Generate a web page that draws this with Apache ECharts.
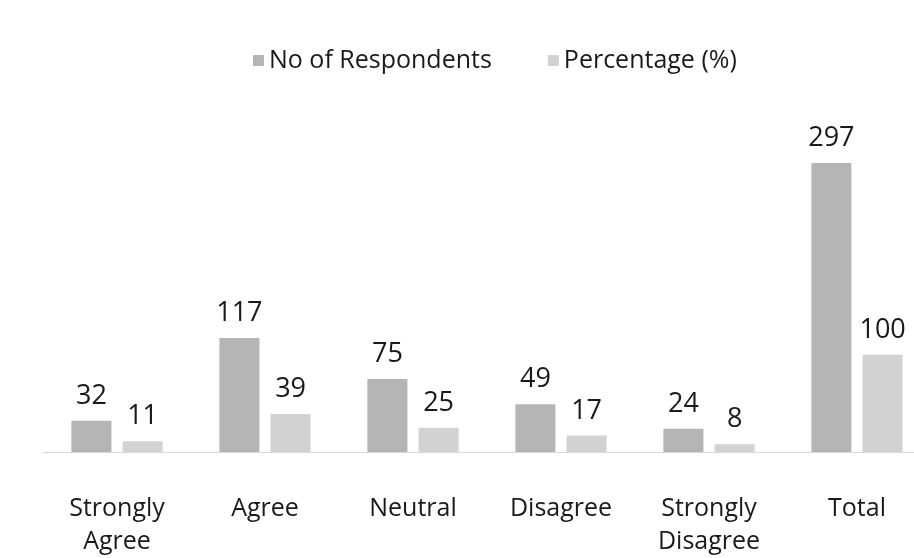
<!DOCTYPE html>
<html><head><meta charset="utf-8">
<script src="https://cdn.jsdelivr.net/npm/echarts@6/dist/echarts.min.js"></script>
<style>html,body{margin:0;padding:0;background:#fff;overflow:hidden}#c{width:931px;height:558px}</style>
</head><body><div id="c"></div>
<script>
const categories = ['Strongly\nAgree', 'Agree', 'Neutral', 'Disagree', 'Strongly\nDisagree', 'Total'];
const respondents = [32, 117, 75, 49, 24, 297];
const percentage = [11, 39, 25, 17, 8, 100];
const seriesNames = ['No of Respondents', 'Percentage (%)'];

const font = '"Open Sans", Lato, sans-serif';
const chart = echarts.init(document.getElementById('c'));
const lbl = {show: true, position: 'top', distance: 11, fontSize: 27, color: '#1a1a1a', fontFamily: font};
chart.setOption({
  animation: false,
  textStyle: {fontFamily: font},
  legend: {
    left: 248, top: 43, itemWidth: 11, itemHeight: 11, itemGap: 56,
    textStyle: {fontSize: 25, color: '#1a1a1a', fontFamily: font},
    icon: 'rect'
  },
  grid: {left: 43, right: 0, top: 160, bottom: 101, containLabel: false},
  xAxis: {
    type: 'category', data: categories,
    axisLine: {lineStyle: {color: '#d0d0d0', type: 'dotted'}},
    axisTick: {show: false},
    axisLabel: {fontSize: 25, color: '#1a1a1a', margin: 40, lineHeight: 33, fontFamily: font, interval: 0}
  },
  yAxis: {type: 'value', min: 0, max: 300, show: false, splitLine: {show: false}},
  series: [
    {name: seriesNames[0], type: 'bar', data: respondents, barWidth: 40, barGap: '28%',
     itemStyle: {color: '#b5b5b5'}, label: lbl},
    {name: seriesNames[1], type: 'bar', data: percentage, barWidth: 40,
     itemStyle: {color: '#d2d2d2'}, label: lbl}
  ]
});
</script></body></html>
